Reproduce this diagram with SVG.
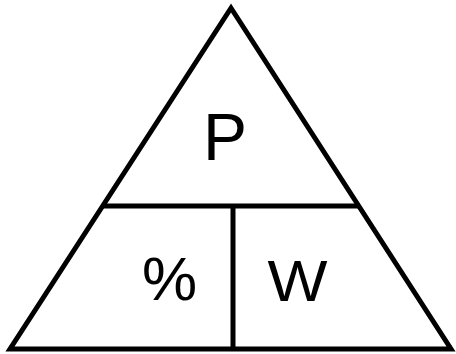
<svg xmlns="http://www.w3.org/2000/svg" width="456" height="354" viewBox="0 0 456 354">
<style>
.ln{fill:none;stroke:#000;stroke-width:5;stroke-linejoin:miter}
.t{font-family:"Liberation Sans",Arial,sans-serif;fill:#000}
</style>
<rect width="456" height="354" fill="#fff"/>
<g id="connectors">
<polygon class="ln" points="231,8 10,349 451,349"/>
<line class="ln" x1="102" y1="206" x2="360" y2="206"/>
<line class="ln" x1="233" y1="206" x2="233" y2="349"/>
</g>
<g id="node-P"><text class="t" x="203" y="160" font-size="66">P</text></g>
<g id="node-percent"><text class="t" x="142" y="300" font-size="62">%</text></g>
<g id="node-W"><text class="t" x="267.5" y="301" font-size="58" textLength="60" lengthAdjust="spacingAndGlyphs">W</text></g>
</svg>
